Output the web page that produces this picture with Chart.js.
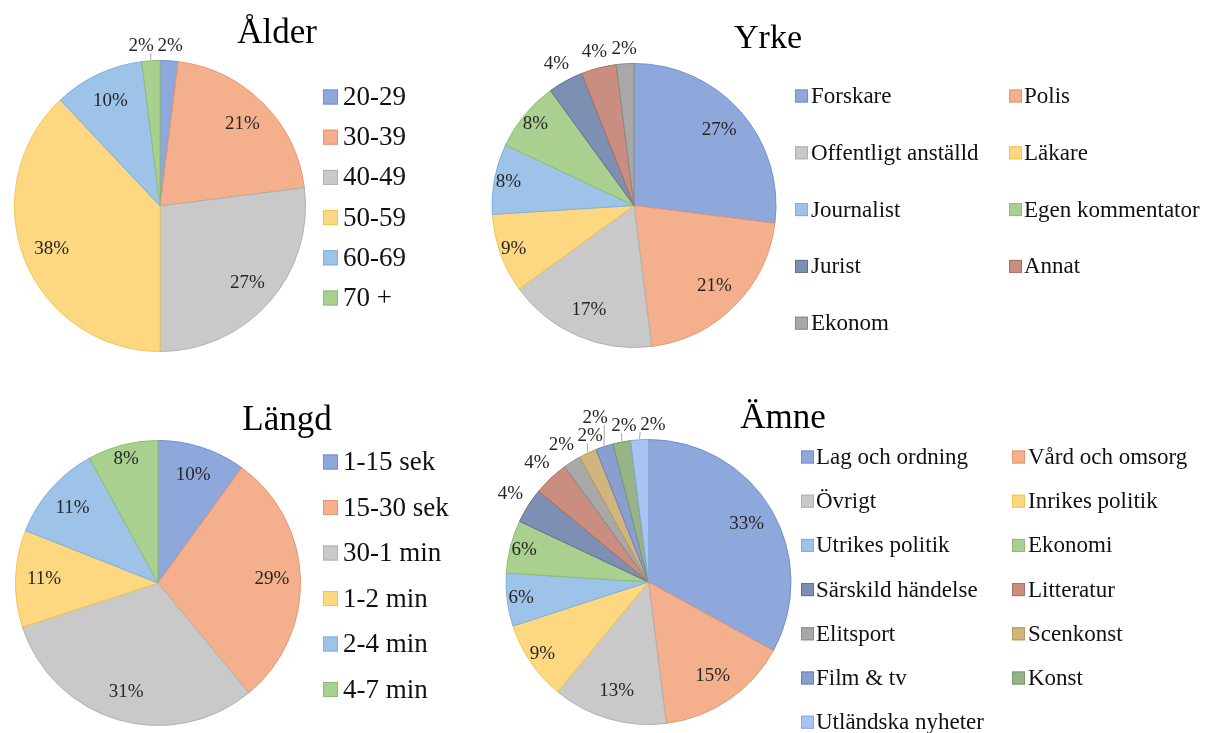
<!DOCTYPE html>
<html lang="sv">
<head>
    <meta charset="UTF-8">
    <title>Ålder, Yrke, Längd, Ämne</title>
    <script src="https://cdn.jsdelivr.net/npm/chart.js"></script>
    <style>
        html, body { margin: 0; padding: 0; background: #fff; }
        .wrap { position: relative; width: 1209px; height: 733px; overflow: hidden; }
        .panel { position: absolute; }
    </style>
</head>
<body>
<div class="wrap">
    <div class="panel" style="left:0;top:0"><canvas id="alderChart" width="480" height="365"></canvas></div>
    <div class="panel" style="left:480px;top:0"><canvas id="yrkeChart" width="729" height="365"></canvas></div>
    <div class="panel" style="left:0;top:365px"><canvas id="langdChart" width="480" height="368"></canvas></div>
    <div class="panel" style="left:480px;top:365px"><canvas id="amneChart" width="729" height="368"></canvas></div>
</div>
<script>
    // Data (percent of total)
    var alderLabels = ['20-29', '30-39', '40-49', '50-59', '60-69', '70 +'];
    var alderValues = [2, 21, 27, 38, 10, 2];

    var yrkeLabels = ['Forskare', 'Polis', 'Offentligt anställd', 'Läkare', 'Journalist',
                      'Egen kommentator', 'Jurist', 'Annat', 'Ekonom'];
    var yrkeValues = [27, 21, 17, 9, 8, 8, 4, 4, 2];

    var langdLabels = ['1-15 sek', '15-30 sek', '30-1 min', '1-2 min', '2-4 min', '4-7 min'];
    var langdValues = [10, 29, 31, 11, 11, 8];

    var amneLabels = ['Lag och ordning', 'Vård och omsorg', 'Övrigt', 'Inrikes politik', 'Utrikes politik',
                      'Ekonomi', 'Särskild händelse', 'Litteratur', 'Elitsport', 'Scenkonst',
                      'Film & tv', 'Konst', 'Utländska nyheter'];
    var amneValues = [33, 15, 13, 9, 6, 6, 4, 4, 2, 2, 2, 2, 2];

    // Excel-like light palette and edge colours
    var fills = ['#8FA8DC', '#F4B08C', '#C9C9C9', '#FDD880', '#9DC3E9', '#A9D08F',
                 '#7D8FB2', '#C98E80', '#A8A8A8', '#D2B57E', '#8A9FCF', '#96B488', '#A9C4F0'];
    var edges = ['#6F8FCF', '#E8956C', '#B0B0B0', '#F2C450', '#7DAEDF', '#8DBE6E',
                 '#5C6F96', '#AD6E60', '#8A8A8A', '#B89A5C', '#6A82B8', '#789A6A', '#86A8DE'];

    var serif = '"Liberation Serif", "Times New Roman", serif';

    // Draws title, legend and data labels
    var pieExtras = {
        id: 'pieExtras',
        afterDatasetsDraw: function (chart, args, o) {
            var ctx = chart.ctx;
            var meta = chart.getDatasetMeta(0);
            var ds = chart.data.datasets[0];
            var total = ds.data.reduce(function (a, b) { return a + b; }, 0);
            ctx.save();

            // title
            ctx.fillStyle = '#000';
            ctx.font = o.titleSize + 'px ' + serif;
            ctx.textAlign = 'center';
            ctx.textBaseline = 'alphabetic';
            ctx.fillText(o.title, o.titleX, o.titleY);

            // legend
            ctx.font = o.legSize + 'px ' + serif;
            ctx.textAlign = 'left';
            ctx.textBaseline = 'middle';
            chart.data.labels.forEach(function (lab, i) {
                var col = i % o.legCols, row = Math.floor(i / o.legCols);
                var bx = o.legX[col], by = o.legY + row * o.legStep;
                ctx.fillStyle = ds.backgroundColor[i];
                ctx.fillRect(bx, by - o.legBox / 2, o.legBox, o.legBox);
                ctx.strokeStyle = ds.borderColor[i];
                ctx.lineWidth = 1;
                ctx.strokeRect(bx + 0.5, by - o.legBox / 2 + 0.5, o.legBox - 1, o.legBox - 1);
                ctx.fillStyle = '#111';
                ctx.fillText(lab, o.legText[col], by + 1);
            });

            // data labels
            ctx.font = o.labSize + 'px ' + serif;
            ctx.textAlign = 'center';
            var h = 18, gap = 3, placed = [];
            meta.data.forEach(function (arc, i) {
                var pct = ds.data[i] / total * 100;
                var txt = Math.round(pct) + '%';
                var mid = (arc.startAngle + arc.endAngle) / 2;
                var cx = arc.x, cy = arc.y, R = arc.outerRadius;
                var c = Math.cos(mid), s = Math.sin(mid);
                ctx.fillStyle = '#262626';
                if (pct >= 5) {
                    var f = pct < 10 ? 0.9 : 0.8;
                    ctx.fillText(txt, cx + c * R * f, cy + s * R * f);
                    return;
                }
                // outside label, nudged clear of earlier ones
                var w = ctx.measureText(txt).width;
                var d = R + 6 + Math.abs(c) * w / 2 + Math.abs(s) * 8;
                var x0 = cx + c * d, y0 = cy + s * d, x = x0, y = y0;
                for (var k = 0; k < 12; k++) {
                    var hit = null;
                    placed.forEach(function (p) {
                        if (Math.abs(p.x - x) < (p.w + w) / 2 + gap && Math.abs(p.y - y) < h) hit = p;
                    });
                    if (!hit) break;
                    var need = (hit.w + w) / 2 + gap;
                    var hx = x >= hit.x ? need - (x - hit.x) : need - (hit.x - x);
                    var hdir = x >= hit.x ? 1 : -1;
                    // radial step needed so the vertical gap clears
                    var t = 0;
                    while (t < 60) {
                        var ny = y + s * t, nx = x + c * t;
                        if (Math.abs(ny - hit.y) >= h || Math.abs(nx - hit.x) >= need) break;
                        t += 0.5;
                    }
                    if (hx <= t) x += hdir * (hx + 0.5);
                    else { x += c * t; y += s * t; }
                }
                placed.push({ x: x, y: y, w: w });
                if (Math.hypot(x - x0, y - y0) > 3) {
                    var ex = cx + c * (R + 1), ey = cy + s * (R + 1);
                    var tx = Math.max(x - w / 2, Math.min(ex, x + w / 2));
                    var ty = Math.max(y - h / 2 + 2, Math.min(ey, y + h / 2 - 2));
                    ctx.strokeStyle = '#A6A6A6';
                    ctx.lineWidth = 1;
                    ctx.beginPath();
                    ctx.moveTo(ex, ey);
                    ctx.lineTo(tx, ty);
                    ctx.stroke();
                }
                ctx.fillStyle = '#262626';
                ctx.fillText(txt, x, y);
            });
            ctx.restore();
        }
    };

    function makePie(id, labels, values, pad, extras) {
        var n = values.length;
        return new Chart(document.getElementById(id).getContext('2d'), {
            type: 'pie',
            data: {
                labels: labels,
                datasets: [{
                    data: values,
                    backgroundColor: fills.slice(0, n),
                    borderColor: edges.slice(0, n),
                    borderWidth: 1
                }]
            },
            options: {
                responsive: false,
                animation: false,
                layout: { padding: pad },
                plugins: {
                    legend: { display: false },
                    tooltip: { enabled: false },
                    pieExtras: extras
                }
            },
            plugins: [pieExtras]
        });
    }

    var alderChart = makePie('alderChart', alderLabels, alderValues,
        { left: 14, right: 174, top: 60, bottom: 13 },
        { title: 'Ålder', titleSize: 35, titleX: 277, titleY: 43,
          legCols: 1, legX: [323], legText: [343], legY: 97, legStep: 40.2, legBox: 15, legSize: 27, labSize: 19 });

    var yrkeChart = makePie('yrkeChart', yrkeLabels, yrkeValues,
        { left: 11, right: 432, top: 63, bottom: 17 },
        { title: 'Yrke', titleSize: 34, titleX: 288, titleY: 48,
          legCols: 2, legX: [315, 529], legText: [331, 544], legY: 96, legStep: 56.8, legBox: 13, legSize: 23, labSize: 19 });

    var langdChart = makePie('langdChart', langdLabels, langdValues,
        { left: 15, right: 179, top: 75, bottom: 7 },
        { title: 'Längd', titleSize: 35, titleX: 287, titleY: 65,
          legCols: 1, legX: [323], legText: [343], legY: 97, legStep: 45.5, legBox: 15, legSize: 27, labSize: 19 });

    var amneChart = makePie('amneChart', amneLabels, amneValues,
        { left: 25, right: 417, top: 74, bottom: 8 },
        { title: 'Ämne', titleSize: 35, titleX: 303, titleY: 63,
          legCols: 2, legX: [321, 532], legText: [336, 548], legY: 92, legStep: 44.2, legBox: 13, legSize: 23, labSize: 19 });
</script>
</body>
</html>
